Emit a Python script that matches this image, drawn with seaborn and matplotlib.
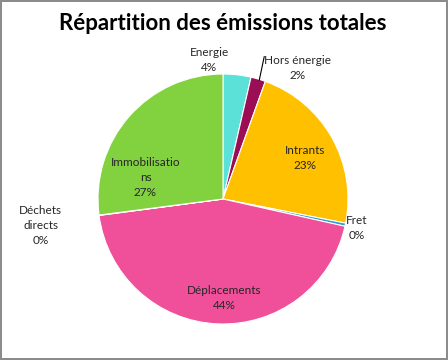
import matplotlib
matplotlib.use("Agg")
import matplotlib.pyplot as plt
import seaborn as sns

categories = ["Energie", "Hors énergie", "Intrants", "Fret", "Déplacements", "Déchets directs", "Immobilisations"]
values = [3.6, 1.9, 22.6, 0.4, 44.4, 0.05, 27.05]
label_texts = ["Energie", "Hors énergie", "Intrants", "Fret", "Déplacements", "Déchets\ndirects", "Immobilisatio\nns"]
colors = ["#5CE1D8", "#9B0D54", "#FFC000", "#2E9BD6", "#F0509A", "#4F81BD", "#82D13F"]

sns.set_theme(style="white")
plt.rcParams["font.family"] = ["Lato", "DejaVu Sans"]

W, H = 448, 360
fig = plt.figure(figsize=(W / 100, H / 100), dpi=100)
fig.patch.set_facecolor("white")
fig.patch.set_edgecolor("#8C8C8C")
fig.patch.set_linewidth(1.5)

cx, cy, r = 223, 199, 125
ax = fig.add_axes([(cx - r) / W, (H - cy - r) / H, 2 * r / W, 2 * r / H])
palette = sns.color_palette(colors)
total = sum(values)
ax.pie(values, colors=palette, startangle=90, counterclock=False, radius=1,
       wedgeprops=dict(edgecolor="white", linewidth=0.8))
ax.set_xlim(-1, 1)
ax.set_ylim(-1, 1)
ax.set_aspect("equal")
ax.axis("off")

# label positions (style, in pie radius units)
label_pos = [(-0.11, 1.11), (0.60, 1.05), (0.66, 0.33), (1.07, -0.23),
             (0.01, -0.79), (-1.46, -0.21), (-0.62, 0.17)]
for txt, v, (x, y) in zip(label_texts, values, label_pos):
    pct = round(v / total * 100)
    ax.text(x, y, f"{txt}\n{pct}%", ha="center", va="center", fontsize=8.5,
            color="#262626", linespacing=1.45)
ax.plot([0.29, 0.33], [0.95, 1.14], color="black", lw=0.8, clip_on=False)

fig.text(cx / W, 1 - 24 / H, "Répartition des émissions totales", ha="center", va="center",
         fontsize=16, fontweight="bold", color="black")

fig.savefig("out.png", dpi=100, facecolor=fig.get_facecolor(), edgecolor=fig.get_edgecolor())
